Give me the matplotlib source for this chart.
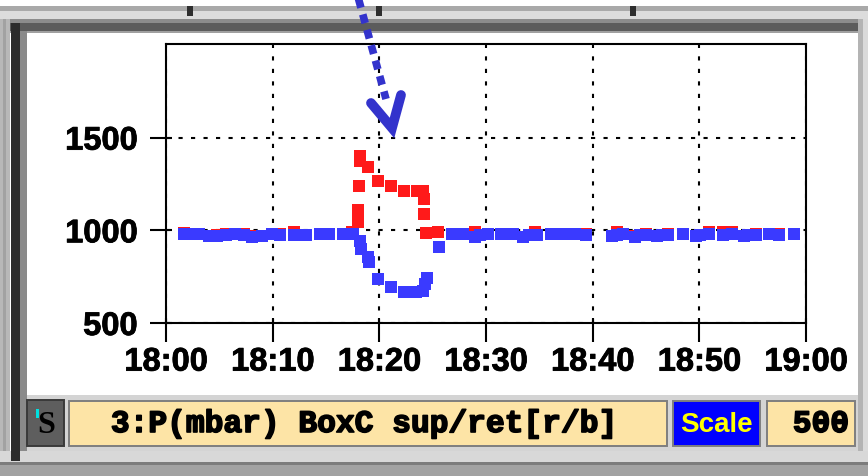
import matplotlib
matplotlib.use("Agg")
import matplotlib.pyplot as plt
from matplotlib.patches import Rectangle
import matplotlib.patheffects as pe

plt.rcParams['lines.scale_dashes'] = False

W, H, DPI = 868, 477, 100

# time axis (minutes after 18:00) and labels
tick_minutes = [0, 10, 20, 30, 40, 50, 60]
tick_labels = ["18:00", "18:10", "18:20", "18:30", "18:40", "18:50", "19:00"]
y_ticks = [500, 1000, 1500]
y_range = [500, 2005]

# return pressure (blue), minutes after 18:00 / mbar
ret_minutes = [1.7, 2.6, 3.1, 4.0, 4.8, 5.6, 6.5, 7.3, 8.1, 9.0, 9.9, 10.7,
               12.0, 13.1, 14.4, 15.3, 16.6, 17.5,
               18.2, 18.3, 18.9, 19.0, 19.9, 21.1, 22.3, 23.4, 24.1, 24.3, 24.5, 25.6,
               26.85, 27.8, 29.0, 29.4, 30.2, 31.4, 32.5, 33.5, 34.0, 34.8, 36.1,
               37.2, 38.3, 39.4, 41.8, 42.3, 42.8, 44.0, 44.4, 45.0, 46.0, 46.5,
               47.1, 48.5, 49.7, 50.1, 50.9, 52.2, 53.1, 54.2, 54.6, 55.3, 56.5,
               57.5, 58.9]
ret_mbar = [982, 981, 979, 967, 970, 976, 978, 976, 966, 968, 978, 977,
            975, 972, 981, 979, 980, 978,
            940, 900, 855, 830, 735, 692, 665, 668, 672, 712, 745, 908,
            978, 979, 966, 975, 978, 979, 978, 966, 975, 977, 978,
            979, 978, 977, 967, 974, 978, 966, 974, 976, 967, 975,
            977, 978, 967, 973, 978, 977, 978, 968, 974, 977, 978,
            977, 978]

# supply pressure (red), minutes after 18:00 / mbar
sup_minutes = [1.7, 2.6, 3.1, 4.0, 4.8, 5.6, 6.5, 7.3, 8.1, 9.0, 9.9, 10.7,
               12.0, 13.1, 14.4, 15.3, 16.6, 17.4,
               18.0, 18.02, 18.05, 18.15, 18.2, 18.9, 19.9, 21.1, 22.3, 23.5,
               24.1, 24.15, 24.2, 24.4, 25.5,
               26.85, 27.8, 29.0, 30.2, 31.4, 32.5, 34.6, 36.1, 37.2, 38.3, 39.4,
               42.3, 42.8, 44.0, 45.0, 46.5, 47.1, 48.5, 50.9, 52.2, 53.1,
               55.3, 56.5, 57.5, 58.9]
sup_mbar = [984, 982, 980, 969, 972, 978, 980, 978, 968, 970, 980, 979,
            990, 974, 982, 981, 981, 992,
            1045, 1108, 1238, 1400, 1373, 1340, 1265, 1238, 1211, 1211,
            1211, 1168, 1086, 984, 990,
            980, 980, 990, 980, 981, 980, 990, 980, 981, 980, 979,
            990, 980, 968, 978, 977, 979, 980, 992, 992, 992,
            979, 980, 979, 980]

channel_label = "3:P(mbar) BoxC sup/ret[r/b]"
scale_label = "Scale"
scale_value = "500"

fig = plt.figure(figsize=(W / DPI, H / DPI), dpi=DPI, facecolor="white")

# ---- window chrome, drawn in pixel coordinates ----
bg = fig.add_axes([0, 0, 1, 1], zorder=-2)
bg.set_xlim(0, W)
bg.set_ylim(H, 0)
bg.axis("off")


def box(ax, x, y, w, h, color, **kw):
    ax.add_patch(Rectangle((x, y), w, h, facecolor=color, edgecolor="none", **kw))


# top bar
box(bg, 0, 7, W, 5, "#a9a9a9")
box(bg, 0, 12, W, 8, "#dcdcdc")
for nx in (187, 376, 630):
    box(bg, nx, 7, 6, 10, "#2e2e2e")
box(bg, 0, 20, W, 4, "#8c8c8c")
box(bg, 0, 24, W, 8, "#5c5c5c")
box(bg, 0, 32, W, 2, "#a0a0a0")
# left edge
box(bg, 0, 20, 10, H, "#b8b8b8")
box(bg, 3, 20, 3, H, "#a2a2a2")
box(bg, 11, 24, 9, 438, "#2c2c2c")
box(bg, 20, 32, 7, 430, "#8a8a8a")
# right edge
box(bg, 858, 20, 5, H, "#b4b4b4")
box(bg, 863, 20, 5, H, "#dadada")
# bottom area
box(bg, 27, 396, 831, 56, "#d4d4d4")
box(bg, 0, 452, W, 11, "#d8d8d8")
box(bg, 0, 463, W, 3, "#7c7c7c")
box(bg, 0, 466, W, 11, "#a2a2a2")
box(bg, 11, 396, 9, 66, "#2c2c2c")


# status bar fields
def field(ax, x, y, w, h, fill):
    ax.add_patch(Rectangle((x, y), w, h, facecolor=fill, edgecolor="#7e7e7e", lw=1.4))


box(bg, 27, 401, 37, 46, "#5e5e5e")
bg.add_patch(Rectangle((27, 401), 37, 46, facecolor="none", edgecolor="#3a3a3a", lw=1.4))
box(bg, 36, 410, 3, 9, "#00e0e0")
bg.text(46, 426, "S", ha="center", va="center", fontsize=23, fontweight="bold",
        family="Liberation Serif", color="black")

field(bg, 69, 402, 598, 45, "#fde4a6")
field(bg, 673, 402, 87, 45, "#0000ff")
field(bg, 767, 402, 88, 45, "#fde4a6")

thick = [pe.withStroke(linewidth=1.2, foreground="black")]
bg.text(364, 425, channel_label, ha="center", va="center", fontsize=22.5,
        fontweight="bold", family="Liberation Mono", color="black", path_effects=thick)
bg.text(716, 425, scale_label, ha="center", va="center", fontsize=20,
        fontweight="bold", family="Liberation Sans", color="#ffff00")
bg.text(849, 425, scale_value, ha="right", va="center", fontsize=22.5,
        fontweight="bold", family="Liberation Mono", color="black", path_effects=thick)

# ---- chart ----
ax = fig.add_axes([166 / W, 1 - 324 / H, 640 / W, (324 - 45) / H], zorder=0)
ax.set_facecolor("white")
ax.plot(sup_minutes, sup_mbar, linestyle="none", marker="s", ms=8.6,
        mew=0, color="#ff1a1a", zorder=3, clip_on=False)
ax.plot(ret_minutes, ret_mbar, linestyle="none", marker="s", ms=8.6,
        mew=0, color="#3a3aff", zorder=4, clip_on=False)

ax.set_xlim(tick_minutes[0], tick_minutes[-1])
ax.set_ylim(*y_range)
ax.set_xticks(tick_minutes)
ax.set_xticklabels(tick_labels)
ax.set_yticks(y_ticks)
ax.set_xticks(tick_minutes, minor=True)
ax.set_yticks(y_ticks, minor=True)
ax.xaxis.remove_overlapping_locs = False
ax.yaxis.remove_overlapping_locs = False

ax.tick_params(axis="x", which="major", direction="out", length=14, width=1.5,
               pad=3, color="black")
ax.tick_params(axis="y", which="major", direction="out", length=11.5, width=1.5,
               pad=9, color="black")
ax.tick_params(axis="x", which="minor", direction="in", length=3.6, width=1.5)
ax.tick_params(axis="y", which="minor", direction="in", length=4.3, width=1.5)
for lab in ax.get_xticklabels() + ax.get_yticklabels():
    lab.set_fontfamily("Liberation Sans")
    lab.set_fontweight("bold")
    lab.set_fontsize(23.5)
    lab.set_color("black")
    lab.set_path_effects([pe.withStroke(linewidth=0.6, foreground="black")])

for s in ax.spines.values():
    s.set_linewidth(1.5)
    s.set_color("black")

ax.grid(True, which="major", color="black", linewidth=1.5, linestyle=(0, (3, 6)))
ax.set_axisbelow(True)

# ---- pointer marking the pressure step ----
top = fig.add_axes([0, 0, 1, 1], zorder=5)
top.set_xlim(0, W)
top.set_ylim(H, 0)
top.axis("off")
top.patch.set_alpha(0)
top.plot([358, 386], [-2, 100], color="#3333cc", lw=5.5, linestyle=(0, (6.5, 5)),
         dash_capstyle="butt")
top.plot([371, 392, 401], [104, 129, 96], color="#3333cc", lw=7,
         solid_joinstyle="miter", solid_capstyle="round")

fig.savefig("out.png", dpi=DPI, facecolor="white")
